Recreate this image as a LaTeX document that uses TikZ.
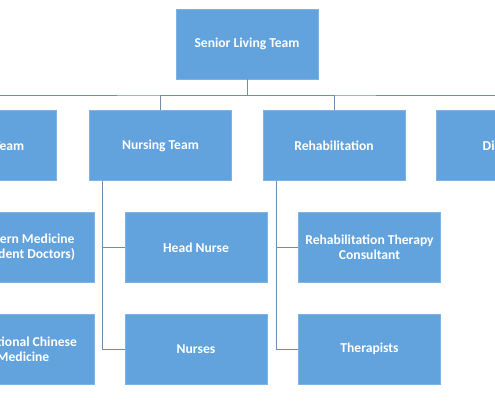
\documentclass[tikz,border=0pt]{standalone}
\usepackage{fontspec}
\setmainfont{Carlito}
\usepackage{xcolor}
\usepackage{tikz}
\usetikzlibrary{calc}
\definecolor{boxblue}{HTML}{62A3DD}
\definecolor{boxedge}{HTML}{7DB4E4}
\definecolor{linkgray}{HTML}{6F8FB0}

\begin{document}
\begin{tikzpicture}[
  x=1pt,y=1pt,
  box/.style={rectangle,draw=boxedge,line width=0.8pt,fill=boxblue,minimum width=142pt,minimum height=70pt,align=center,text=white,font=\fontsize{13.6}{15}\selectfont\bfseries},
  link/.style={draw=linkgray,line width=1pt}
]
\useasboundingbox (0,0) rectangle (495,-400);
\clip (0,0) rectangle (495,-400);

\node[box] (senior) at (247,-44) {Senior Living Team};

\node[box] (medical) at (-15,-145.5) {Medical Team};
\node[box] (nursing) at (160.5,-145.5) {Nursing Team};
\node[box] (rehab) at (334,-145.5) {Rehabilitation};
\node[box] (diet) at (507,-145.5) {Dietitian};

\node[box] (western) at (23,-247.5) {Western Medicine\\(Resident Doctors)};
\node[box] (tcm) at (23,-349) {Traditional Chinese\\Medicine};
\node[box] (headnurse) at (196,-247.5) {Head Nurse};
\node[box] (nurses) at (196,-349) {Nurses};
\node[box] (consult) at (369.5,-247.5) {Rehabilitation Therapy\\Consultant};
\node[box] (therapists) at (369.5,-349) {Therapists};

\coordinate (bus) at (247,-95);
\draw[link] (senior.south)--(bus);
\draw[link] (medical.north) |- (bus) -| (diet.north);
\draw[link] (bus) -| (nursing.north);
\draw[link] (bus) -| (rehab.north);

\draw[link] ($(medical.south west)+(13.5,0)$) |- (western.west);
\draw[link] ($(medical.south west)+(13.5,0)$) |- (tcm.west);
\draw[link] ($(nursing.south west)+(13.5,0)$) |- (headnurse.west);
\draw[link] ($(nursing.south west)+(13.5,0)$) |- (nurses.west);
\draw[link] ($(rehab.south west)+(13.5,0)$) |- (consult.west);
\draw[link] ($(rehab.south west)+(13.5,0)$) |- (therapists.west);
\end{tikzpicture}
\end{document}
